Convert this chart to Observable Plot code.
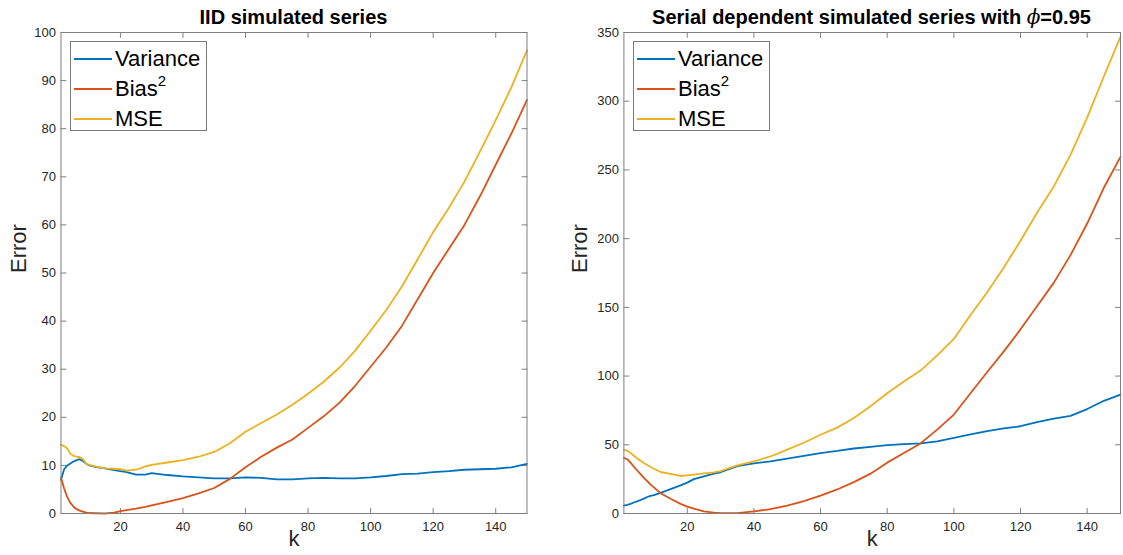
<!DOCTYPE html>
<html>
<head>
<meta charset="utf-8">
<script src="https://cdn.jsdelivr.net/npm/d3@7"></script>
<script src="https://cdn.jsdelivr.net/npm/@observablehq/plot@0.6"></script>
<style>
  body { margin: 0; background: #fff; }
  #wrap { position: relative; width: 1123px; height: 555px; overflow: hidden;
          font-family: "Liberation Sans", Arial, Helvetica, sans-serif; }
  #wrap svg { position: absolute; top: 0; }
  .title { position: absolute; top: 5px; font-weight: bold; font-size: 20px; line-height: 24px;
           color: #000; white-space: nowrap; transform: translateX(-50%); }
  .phi { font-family: "DejaVu Serif", serif; font-style: italic; font-weight: normal; }
  .legend { position: absolute; top: 41px; width: 137px; height: 90px; box-sizing: border-box;
            border: 1px solid #7a7a7a; background: #fff; padding-top: 2px; }
  .row { position: relative; height: 30px; line-height: 30px; font-size: 22px; color: #000; }
  .row .sw { position: absolute; left: 3px; top: 14px; width: 38px; height: 2px; }
  .row .lb { position: absolute; left: 44px; top: 0; white-space: nowrap; }
  .row sup { font-size: 15px; line-height: 0; position: relative; top: -2px; }
</style>
</head>
<body>
<div id="wrap"></div>
<script>
// ---- data ----
const kValues = [1,2,3,4,5,6,7,8,9,10,12,15,18,20,22,25,28,30,35,40,45,50,55,60,65,70,75,80,85,90,95,100,105,110,115,120,125,130,135,140,145,150];

const seriesNames = ["Variance", "Bias2", "MSE"];
const seriesLabels = ["Variance", "Bias<sup>2</sup>", "MSE"];
const seriesColors = ["#0072BD", "#D95319", "#EDB120"];

const iidVariance = [7.0,9.2,10.0,10.4,10.8,11.1,11.3,10.9,10.4,10.0, 9.7,9.4,9.0,8.8,8.6,8.1,8.1,8.4, 8.0,7.7,7.5,7.3,7.3,7.5,7.4,7.1,7.1,7.3,7.4,7.3,7.3,7.5, 7.8,8.2,8.3,8.6,8.8,9.1,9.2,9.3,9.6,10.3];
const iidBias2    = [7.5,5.2,3.4,2.2,1.4,0.9,0.6,0.4,0.2,0.1, 0.05,0.0,0.2,0.5,0.7,1.0,1.4,1.7, 2.4,3.2,4.2,5.3,7.2,9.6,11.8,13.7,15.4,17.8,20.2,23.0,26.5,30.5, 34.5,39.0,44.5,50.0,55.0,60.0,66.0,72.5,79.0,86.0];
const iidMSE      = [14.3,14.0,13.5,12.4,12.0,11.8,11.7,11.3,10.4,10.1, 9.8,9.4,9.3,9.2,8.9,9.1,9.8,10.1, 10.6,11.1,11.8,12.8,14.6,17.0,18.8,20.6,22.6,24.9,27.4,30.3,33.8,38.0, 42.3,47.2,52.8,58.5,63.5,69.0,75.3,81.8,88.6,96.3];

const serVariance = [5.8,6.3,7.0,8.0,8.8,9.8,10.8,12.0,12.8,13.3, 15.0,17.8,20.5,22.5,25.0,27.0,29.0,30.0, 34.5,36.5,38.0,40.0,42.0,44.0,45.5,47.3,48.5,49.7,50.5,51.0,52.5,55.0, 57.5,60.0,62.0,63.5,66.5,69.0,71.0,76.0,82.0,86.5];
const serBias2    = [40.5,39.5,37.0,34.0,31.3,28.6,26.0,23.5,21.0,19.0, 14.8,10.7,7.0,5.0,3.5,1.5,0.6,0.3, 0.2,1.5,3.2,5.8,9.0,13.0,17.5,22.8,29.0,37.0,44.0,51.0,61.0,72.0, 87.5,103.0,118.0,134.0,151.0,168.0,188.0,211.0,237.0,259.5];
const serMSE      = [46.3,45.8,44.0,42.0,40.1,38.4,36.8,35.3,33.8,32.6, 30.2,28.8,27.3,27.8,28.3,29.2,30.0,30.8, 35.0,38.0,41.5,46.5,51.5,57.3,62.5,69.5,78.0,87.5,96.0,104.0,115.0,127.0, 144.5,161.0,179.0,198.5,219.0,238.0,261.0,288.0,318.0,347.0];

const xTicks = [20,40,60,80,100,120,140];
const iidYTicks = [0,10,20,30,40,50,60,70,80,90,100];
const serYTicks = [0,50,100,150,200,250,300,350];

const titles = ["IID simulated series",
  'Serial dependent simulated series with <span class="phi">ϕ</span>=0.95'];

// ---- drawing ----
const axisColor = "#7f7f7f";
const textColor = "#262626";
const tickShape = { draw(context, l) { context.moveTo(0, 0); context.lineTo(0, -l); } };

function toRows(V, B, M) {
  const arrs = [V, B, M];
  return seriesNames.flatMap((s, j) => kValues.map((k, i) => ({k, v: arrs[j][i], series: s})));
}

function panel({width, marginLeft, marginRight, ymax, yTicks, rows}) {
  const tk = {length: 5, anchor: "start", shape: tickShape, stroke: axisColor, fill: "none", strokeWidth: 1};
  return Plot.plot({
    width, height: 555,
    marginTop: 32, marginBottom: 42, marginLeft, marginRight,
    x: {domain: [1, 150]},
    y: {domain: [0, ymax]},
    color: {domain: seriesNames, range: seriesColors},
    style: {fontFamily: '"Liberation Sans", Arial, Helvetica, sans-serif', fontSize: "13px", color: textColor, background: "white"},
    marks: [
      Plot.axisX(xTicks, {anchor: "bottom", tickSize: 0, tickPadding: 8, label: null, fill: textColor}),
      Plot.axisY(yTicks, {anchor: "left", tickSize: 0, tickPadding: 5, label: null, fill: textColor}),
      Plot.vector(xTicks, {x: d => d, y: 0, rotate: 0, ...tk}),
      Plot.vector(xTicks, {x: d => d, y: ymax, rotate: 180, ...tk}),
      Plot.vector(yTicks, {x: 1, y: d => d, rotate: 90, ...tk}),
      Plot.vector(yTicks, {x: 150, y: d => d, rotate: -90, ...tk}),
      Plot.line(rows, {x: "k", y: "v", z: "series", stroke: "series", strokeWidth: 1.8}),
      Plot.frame({stroke: axisColor, strokeWidth: 1}),
      Plot.text(["Error"], {frameAnchor: "left", dx: -marginLeft + 18, rotate: -90, fontSize: 22, fill: textColor}),
      Plot.text(["k"], {frameAnchor: "bottom", dy: 32, fontSize: 22, fill: textColor})
    ]
  });
}

const wrap = document.getElementById("wrap");

const left = panel({width: 561, marginLeft: 60.5, marginRight: 34.5, ymax: 100, yTicks: iidYTicks,
                    rows: toRows(iidVariance, iidBias2, iidMSE)});
left.style.left = "0px";
wrap.appendChild(left);

const right = panel({width: 562, marginLeft: 62.4, marginRight: 3, ymax: 350, yTicks: serYTicks,
                     rows: toRows(serVariance, serBias2, serMSE)});
right.style.left = "561px";
wrap.appendChild(right);

function addTitle(html, cx) {
  const d = document.createElement("div");
  d.className = "title"; d.style.left = cx + "px"; d.innerHTML = html;
  wrap.appendChild(d);
}
addTitle(titles[0], 293.5);
addTitle(titles[1], 871.5);

function addLegend(x) {
  const box = document.createElement("div");
  box.className = "legend"; box.style.left = x + "px";
  seriesNames.forEach((s, i) => {
    const r = document.createElement("div"); r.className = "row";
    r.innerHTML = `<div class="sw" style="background:${seriesColors[i]}"></div><div class="lb">${seriesLabels[i]}</div>`;
    box.appendChild(r);
  });
  wrap.appendChild(box);
}
addLegend(70);
addLegend(633);
</script>
</body>
</html>
